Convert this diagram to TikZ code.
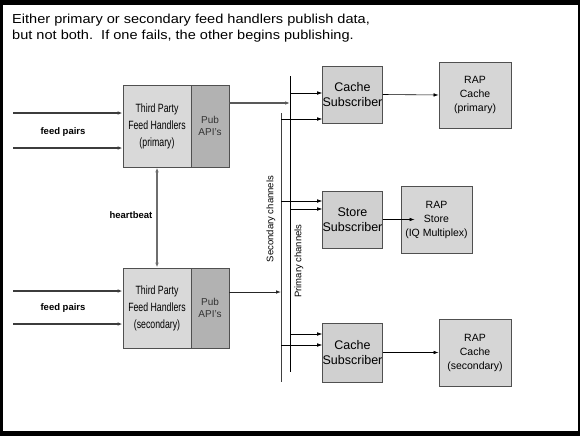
\documentclass[tikz,border=0pt]{standalone}
\usepackage{fontspec}
\setmainfont{Liberation Sans}
\newfontfamily\narrowfont[FakeStretch=0.73]{Liberation Sans}
\newfontfamily\widefont[FakeStretch=1.12]{Liberation Sans}
\usepackage{tikz}
\usetikzlibrary{arrows.meta}

\definecolor{boxline}{HTML}{505050}
\definecolor{fhfill}{HTML}{D9D9D9}
\definecolor{pubfill}{HTML}{B2B2B2}
\definecolor{subfill}{HTML}{D0D0D0}
\definecolor{rapfill}{HTML}{D6D6D6}
\definecolor{feedline}{HTML}{3C3C3C}
\definecolor{hbline}{HTML}{6E6E6E}

\begin{document}
\begin{tikzpicture}[x=1pt,y=-1pt,
    box/.style={draw=boxline,line width=0.9pt,inner sep=0pt,align=center},
    tip/.style={-{Latex[length=5pt,width=3.6pt]}},
    feed/.style={tip,draw=feedline,line width=1.2pt},
    thin/.style={tip,draw=black,line width=0.6pt},
    lbl/.style={font=\bfseries\fontsize{9.5}{11}\selectfont}]
        \useasboundingbox (0,0) rectangle (580,436);
        \fill[black] (0,0) rectangle (580,436);
        \fill[white] (3,5) rectangle (578,431);

        \node[anchor=north west,align=left,inner sep=0pt,font=\widefont\fontsize{13}{16}\selectfont] (title) at (12,14)
          {Either primary or secondary feed handlers publish data,\\but not both.\ \ If one fails, the other begins publishing.};

        % feed handlers
        \node[box,fill=fhfill,minimum width=68pt,minimum height=82pt,font=\narrowfont\fontsize{12}{17}\selectfont] (fhp) at (157,126) {Third Party\\Feed Handlers\\(primary)};
        \node[box,fill=pubfill,minimum width=38pt,minimum height=82pt,text=black!80,font=\fontsize{10}{12.5}\selectfont] (pubp) at (210,126) {Pub\\API's};
        \node[box,fill=fhfill,minimum width=68pt,minimum height=80pt,font=\narrowfont\fontsize{12}{17}\selectfont] (fhs) at (157,308) {Third Party\\Feed Handlers\\(secondary)};
        \node[box,fill=pubfill,minimum width=38pt,minimum height=80pt,text=black!80,font=\fontsize{10}{12.5}\selectfont] (pubs) at (210,308) {Pub\\API's};

        \coordinate (inp1) at (13,113);
        \coordinate (inp2) at (13,148);
        \coordinate (ins1) at (13,291);
        \coordinate (ins2) at (13,324);
        \draw[feed] (inp1) -- (inp1 -| fhp.west);
        \draw[feed] (inp2) -- (inp2 -| fhp.west);
        \draw[feed] (ins1) -- (ins1 -| fhs.west);
        \draw[feed] (ins2) -- (ins2 -| fhs.west);
        \node[lbl] (fpp) at (63,132) {feed pairs};
        \node[lbl] (fps) at (63,308) {feed pairs};

        \draw[{Latex[length=5pt,width=3.6pt]}-{Latex[length=5pt,width=3.6pt]},draw=hbline,line width=1.3pt] (fhp.south) -- (fhs.north);
        \node[lbl] (hb) at (131,215) {heartbeat};

        % channels
        \coordinate (ptop) at (290,76);
        \coordinate (pbot) at (290,372);
        \coordinate (stop) at (281,113);
        \coordinate (sbot) at (281,382);
        \draw[line width=0.7pt] (ptop) -- (pbot);
        \draw[line width=0.7pt,draw=black!75] (stop) -- (sbot);
        \node[rotate=90,font=\fontsize{9.5}{11}\selectfont] (sch) at (271,219) {Secondary channels};
        \node[rotate=90,font=\fontsize{9.5}{11}\selectfont] (pch) at (299,261) {Primary channels};

        \draw[tip,draw=black!65,line width=1.1pt] (pubp.east |- 0,103) -- (ptop |- 0,103);
        \draw[tip,draw=black!85,line width=0.9pt] (pubs.east |- 0,292) -- (stop |- 0,292);

        % subscribers
        \node[box,fill=subfill,minimum width=59pt,minimum height=57pt,font=\fontsize{12.5}{15}\selectfont] (csp) at (352.5,94.5) {Cache\\Subscriber};
        \node[box,fill=subfill,minimum width=59pt,minimum height=57pt,font=\fontsize{12.5}{15}\selectfont] (ssb) at (352.5,219.5) {Store\\Subscriber};
        \node[box,fill=subfill,minimum width=59pt,minimum height=59pt,font=\fontsize{12.5}{15}\selectfont] (css) at (352.5,352.5) {Cache\\Subscriber};

        \node[box,fill=rapfill,minimum width=72pt,minimum height=66pt,font=\fontsize{10.5}{14}\selectfont] (rcp) at (475,95) {RAP\\Cache\\(primary)};
        \node[box,fill=rapfill,minimum width=71pt,minimum height=67pt,font=\fontsize{10.5}{14}\selectfont] (rst) at (436.5,219.5) {RAP\\Store\\(IQ Multiplex)};
        \node[box,fill=rapfill,minimum width=72pt,minimum height=67pt,font=\fontsize{10.5}{14}\selectfont] (rcs) at (475,352.5) {RAP\\Cache\\(secondary)};

        \draw[thin] (ptop |- 0,93) -- (csp.west |- 0,93);
        \draw[thin] (stop |- 0,119) -- (csp.west |- 0,119);
        \draw[thin] (stop |- 0,201) -- (ssb.west |- 0,201);
        \draw[thin] (ptop |- 0,209) -- (ssb.west |- 0,209);
        \draw[thin] (ptop |- 0,334) -- (css.west |- 0,334);
        \draw[thin] (stop |- 0,345) -- (css.west |- 0,345);

        \draw[thin] (csp.east) -- (rcp.west);
        \draw[thin] (ssb.east) -- ([xshift=14pt]rst.west);
        \draw[thin] (css.east) -- (rcs.west);
      \end{tikzpicture}
\end{document}
